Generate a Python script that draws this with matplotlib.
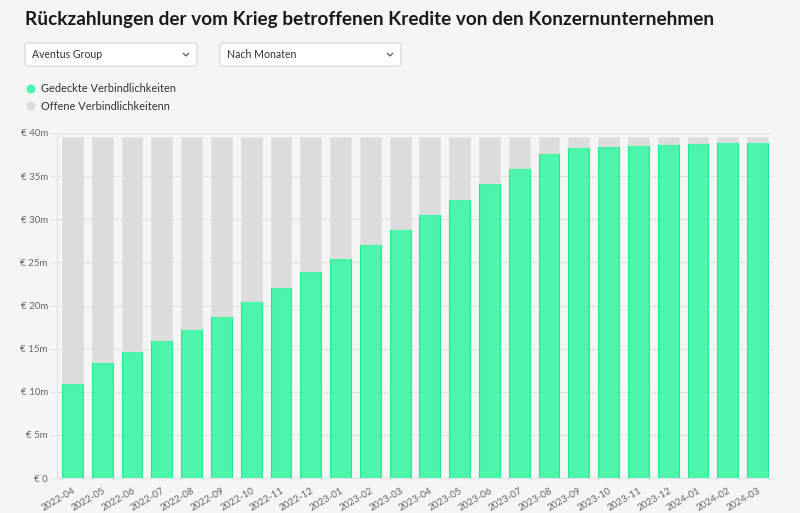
import numpy as np
import matplotlib
matplotlib.use("Agg")
import matplotlib.pyplot as plt
from matplotlib.patches import FancyBboxPatch, Ellipse
from matplotlib.lines import Line2D
from matplotlib.ticker import FuncFormatter

plt.rcParams["font.family"] = ["Lato", "DejaVu Sans"]

# ── data (millions of EUR) ─────────────────────────────────────────────────────
MONTHS = ["2022-04", "2022-05", "2022-06", "2022-07", "2022-08", "2022-09",
          "2022-10", "2022-11", "2022-12", "2023-01", "2023-02", "2023-03",
          "2023-04", "2023-05", "2023-06", "2023-07", "2023-08", "2023-09",
          "2023-10", "2023-11", "2023-12", "2024-01", "2024-02", "2024-03"]
COVERED = [11.0, 13.45, 14.7, 15.95, 17.3, 18.8, 20.5, 22.2, 23.95, 25.5,
           27.15, 28.85, 30.6, 32.4, 34.15, 35.95, 37.65, 38.4, 38.5, 38.6,
           38.7, 38.8, 38.9, 38.95]
TOTAL = 39.5
OPEN = [TOTAL - c for c in COVERED]

TITLE = "Rückzahlungen der vom Krieg betroffenen Kredite von den Konzernunternehmen"
DROPDOWNS = ["Aventus Group", "Nach Monaten"]
LEGEND = ["Gedeckte Verbindlichkeiten", "Offene Verbindlichkeitenn"]

BG = "#f5f5f5"
GREEN, GREEN_EDGE = "#4cf5ab", "#1eea95"
GREY = "#dcdcdc"
GRID = "#e4e4e4"
W, H = 800, 513

fig = plt.figure(figsize=(W / 100, H / 100), dpi=100, facecolor=BG)


def fx(px):
    return px / W


def fy(py):
    return 1 - py / H


# ── header: title, dropdowns, legend ────────────────────────────────────────────
fig.text(fx(25), fy(20), TITLE, fontsize=13.7, fontweight="bold", color="#1a1a1a",
         ha="left", va="center")

for (x0, x1), label in zip([(25, 197), (220, 401)], DROPDOWNS):
    box = FancyBboxPatch((fx(x0), fy(66)), fx(x1 - x0), fy(43) - fy(66),
                         boxstyle="round,pad=0,rounding_size=0.004",
                         transform=fig.transFigure, facecolor="white",
                         edgecolor="#d6d6d6", lw=0.8)
    fig.add_artist(box)
    fig.text(fx(x0 + 7), fy(55), label, fontsize=7.6, color="#333333",
             ha="left", va="center")
    cx = x1 - 11
    fig.add_artist(Line2D([fx(cx - 2.5), fx(cx), fx(cx + 2.5)],
                          [fy(53.5), fy(56), fy(53.5)], transform=fig.transFigure,
                          color="#555555", lw=0.9))

for i, (label, col) in enumerate(zip(LEGEND, [GREEN, GREY])):
    y = 89 + 17 * i
    fig.add_artist(Ellipse((fx(31), fy(y)), 9 / W, 9 / H, transform=fig.transFigure,
                           facecolor=col, edgecolor="none"))
    fig.text(fx(41), fy(y), label, fontsize=7.9, color="#333333",
             ha="left", va="center")

# ── chart ──────────────────────────────────────────────────────────────────────
ax = fig.add_axes([fx(57.5), fy(478), fx(772.5 - 57.5), fy(133) - fy(478)])
ax.set_facecolor(BG)
x = np.arange(len(MONTHS))
ax.bar(x, COVERED, width=0.7, color=GREEN, edgecolor=GREEN_EDGE, lw=0.8, zorder=3)
ax.bar(x, OPEN, bottom=COVERED, width=0.7, color=GREY, edgecolor="#e3e3e3",
       lw=0.6, zorder=3)

ax.set_xlim(-0.5, len(MONTHS) - 0.5)
ax.set_ylim(0, 40)
ax.set_yticks(np.arange(0, 41, 5))
ax.yaxis.set_major_formatter(FuncFormatter(lambda v, _: "€ 0" if v == 0 else f"€ {v:.0f}m"))
ax.set_xticks(x)
ax.set_xticklabels(MONTHS, rotation=30, ha="right", rotation_mode="anchor")
ax.grid(axis="y", color=GRID, lw=0.9, zorder=0)
ax.tick_params(axis="y", length=5, color=GRID, labelsize=7, labelcolor="#666666", pad=2)
ax.tick_params(axis="x", length=0, labelsize=7, labelcolor="#666666", pad=6)
for side in ("top", "right"):
    ax.spines[side].set_visible(False)
for side in ("left", "bottom"):
    ax.spines[side].set_color(GRID)
    ax.spines[side].set_linewidth(0.9)

fig.savefig("out.png", dpi=100, facecolor=BG)
